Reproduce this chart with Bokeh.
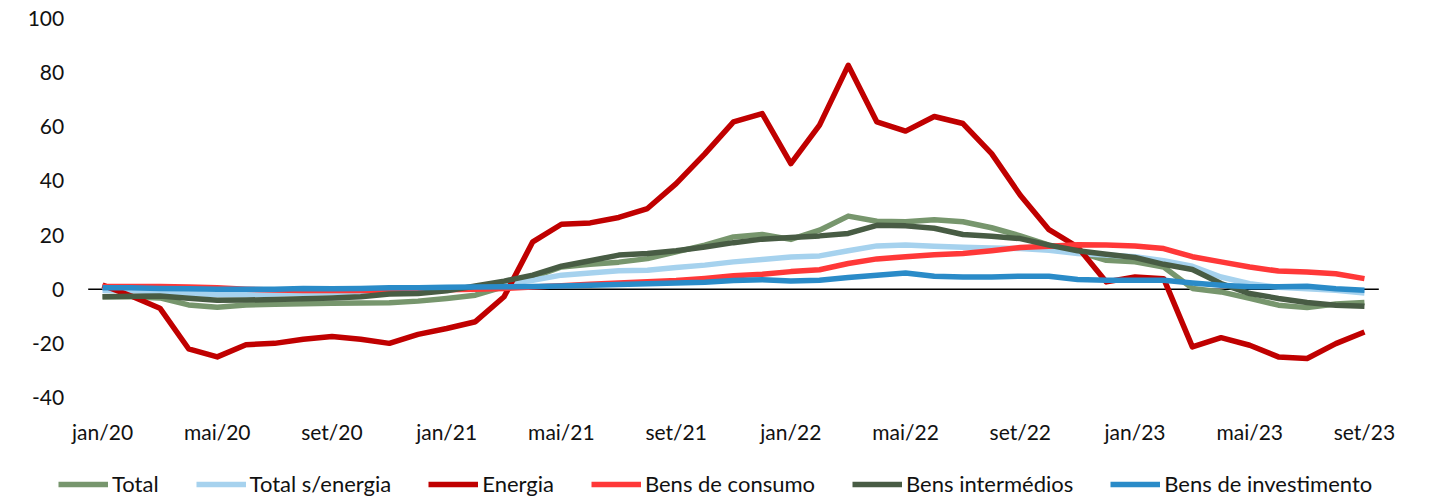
from bokeh.plotting import figure
from bokeh.models import Legend, LegendItem, FixedTicker, Range1d
from bokeh.embed import file_html
from bokeh.resources import INLINE

months = ["jan/20", "fev/20", "mar/20", "abr/20", "mai/20", "jun/20", "jul/20", "ago/20", "set/20", "out/20", "nov/20", "dez/20",
          "jan/21", "fev/21", "mar/21", "abr/21", "mai/21", "jun/21", "jul/21", "ago/21", "set/21", "out/21", "nov/21", "dez/21",
          "jan/22", "fev/22", "mar/22", "abr/22", "mai/22", "jun/22", "jul/22", "ago/22", "set/22", "out/22", "nov/22", "dez/22",
          "jan/23", "fev/23", "mar/23", "abr/23", "mai/23", "jun/23", "jul/23", "ago/23", "set/23"]

total = [-2.8, -2.8, -3.2, -5.8, -6.7, -5.8, -5.6, -5.4, -5.2, -5.1, -5.0, -4.4,
         -3.4, -2.2, 1.0, 4.5, 8.2, 9.2, 10.0, 11.3, 13.8, 16.3, 19.3, 20.2,
         18.4, 21.8, 27.0, 25.1, 24.9, 25.7, 24.9, 22.7, 19.7, 16.3, 13.8, 10.7,
         10.1, 8.2, 0.3, -1.0, -3.4, -5.9, -6.8, -5.5, -4.9]

total_s_energia = [-0.5, -0.5, -1.0, -1.5, -2.0, -2.0, -1.8, -1.5, -1.3, -1.0, -0.8, -0.5,
                   0.0, 0.8, 2.0, 3.3, 5.2, 6.0, 6.8, 7.0, 8.0, 8.9, 10.1, 11.0,
                   11.9, 12.3, 14.2, 16.0, 16.3, 15.9, 15.5, 15.2, 15.0, 14.4, 13.2, 12.6,
                   12.0, 10.5, 8.5, 4.5, 2.0, 0.7, 0.2, -0.4, -1.4]

energia = [1.5, -2.5, -7.0, -22.0, -25.0, -20.5, -20.0, -18.5, -17.5, -18.5, -20.0, -16.7,
           -14.5, -12.0, -2.8, 17.5, 24.0, 24.5, 26.5, 29.8, 39.0, 50.0, 61.8, 64.9,
           46.4, 60.6, 82.7, 61.8, 58.4, 63.8, 61.2, 50.1, 34.7, 22.0, 15.6, 2.7,
           4.5, 3.9, -21.3, -17.9, -20.7, -25.0, -25.6, -20.1, -15.8]

bens_consumo = [1.0, 1.0, 1.0, 0.8, 0.5, 0.0, -0.3, -0.5, -0.5, -0.5, -0.5, -0.3,
                -0.2, 0.0, 0.3, 0.8, 1.3, 1.8, 2.3, 2.8, 3.2, 4.0, 5.0, 5.5,
                6.5, 7.2, 9.5, 11.2, 12.0, 12.7, 13.2, 14.2, 15.4, 15.9, 16.4, 16.3,
                16.0, 15.0, 12.0, 10.1, 8.2, 6.7, 6.4, 5.7, 3.9]

bens_intermedios = [-2.8, -2.6, -2.5, -3.3, -4.1, -4.0, -3.8, -3.5, -3.2, -2.8, -1.8, -1.6,
                    -0.6, 1.2, 3.0, 5.2, 8.5, 10.5, 12.6, 13.2, 14.2, 15.6, 17.2, 18.5,
                    19.1, 19.7, 20.6, 23.6, 23.4, 22.5, 20.2, 19.6, 18.7, 16.3, 14.2, 12.9,
                    11.7, 9.2, 7.3, 2.1, -1.6, -3.4, -4.9, -5.9, -6.3]

bens_investimento = [0.5, 0.5, 0.3, 0.2, 0.0, 0.0, 0.0, 0.3, 0.2, 0.3, 0.5, 0.5,
                     0.7, 0.8, 0.9, 1.0, 1.2, 1.5, 1.7, 2.0, 2.3, 2.6, 3.2, 3.5,
                     3.0, 3.3, 4.3, 5.2, 6.0, 4.8, 4.5, 4.5, 4.8, 4.8, 3.6, 3.3,
                     3.3, 3.3, 2.3, 1.5, 0.9, 0.9, 1.1, 0.2, -0.4]

series_names = ["Total", "Total s/energia", "Energia", "Bens de consumo", "Bens intermédios", "Bens de investimento"]
series_values = [total, total_s_energia, energia, bens_consumo, bens_intermedios, bens_investimento]
series_colors = ["#77966D", "#A6D2EE", "#C00000", "#FF3838", "#485C44", "#2A8BC8"]

y_ticks = [-40, -20, 0, 20, 40, 60, 80, 100]
y_tick_labels = ["-40", "-20", "0", "20", "40", "60", "80", "100"]
x_tick_step = 4

FONT = "Lato"
FS = "21px"
LEG_FS = "22px"

# layout geometry (screen pixels)
W, H = 1430, 501
PLOT_L, PLOT_R, PLOT_T, PLOT_B = 87.7, 1378.3, 18, 397
n = len(months)
y_lo, y_hi = y_ticks[0], y_ticks[-1]
px_x = (PLOT_R - PLOT_L) / n
px_y = (PLOT_B - PLOT_T) / (y_hi - y_lo)
x_start = -0.5 - PLOT_L / px_x
x_end = (n - 0.5) + (W - PLOT_R) / px_x
y_start = y_lo - (H - PLOT_B) / px_y
y_end = y_hi + PLOT_T / px_y

x = list(range(n))

p = figure(width=W, height=H, x_range=Range1d(x_start, x_end), y_range=Range1d(y_start, y_end),
           output_backend="svg", toolbar_location=None,
           min_border_left=0, min_border_right=0, min_border_top=0, min_border_bottom=0)
p.outline_line_color = None
p.xgrid.visible = False
p.ygrid.visible = False

# zero line across the plot area
p.line([-0.5, n - 0.5], [0, 0], line_color="black", line_width=1.5, level="underlay")

items = []
for name, vals, col in zip(series_names, series_values, series_colors):
    r = p.line(x, vals, line_color=col, line_width=5.5, line_join="round")
    items.append(LegendItem(label=name, renderers=[r]))

xt = list(range(0, n, x_tick_step))
p.xaxis.ticker = FixedTicker(ticks=xt)
p.xaxis.major_label_overrides = {i: months[i] for i in xt}
p.xaxis.fixed_location = y_lo
p.yaxis.ticker = FixedTicker(ticks=y_ticks)
p.yaxis.major_label_overrides = dict(zip(y_ticks, y_tick_labels))
p.yaxis.fixed_location = -0.5

for ax in (p.xaxis[0], p.yaxis[0]):
    ax.axis_line_color = None
    ax.major_tick_line_color = None
    ax.minor_tick_line_color = None
    ax.major_tick_in = 0
    ax.major_tick_out = 0
    ax.major_label_text_font = FONT
    ax.major_label_text_font_size = FS
    ax.major_label_text_color = "#111111"
p.xaxis.major_label_standoff = 21
p.yaxis.major_label_standoff = 24

legend = Legend(items=items, location=(58, 4), orientation="horizontal",
                glyph_width=50, glyph_height=20, label_standoff=4, spacing=37,
                padding=0, margin=0, border_line_color=None, background_fill_alpha=0,
                label_text_font=FONT, label_text_font_size=LEG_FS, label_text_color="#111111")
p.add_layout(legend)

open("out.html", "w").write(file_html(p, INLINE))
